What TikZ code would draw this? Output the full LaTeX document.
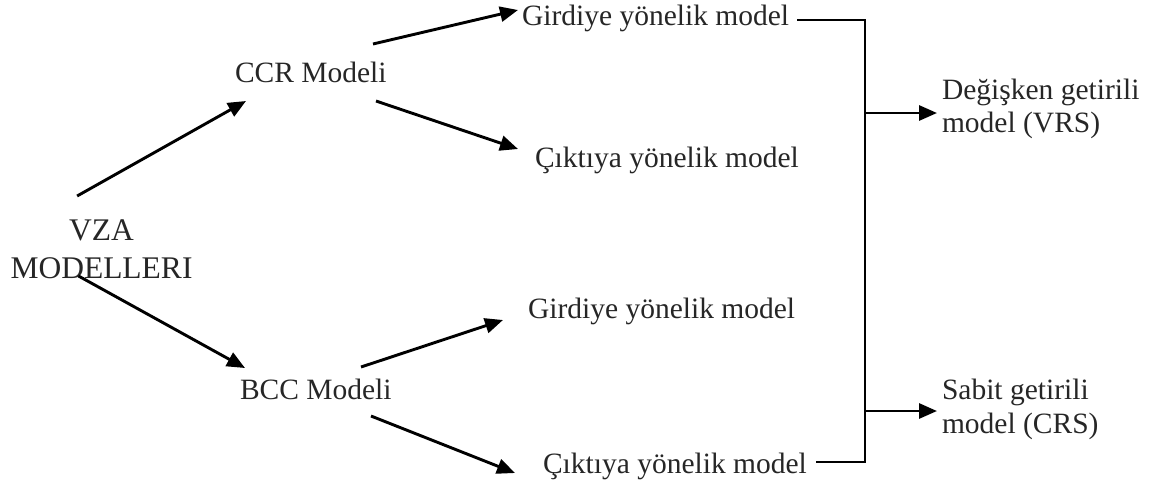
\documentclass[tikz,border=0pt]{standalone}
\usepackage{fontspec}
\setmainfont{Liberation Serif}
\usetikzlibrary{arrows.meta}
\begin{document}
\begin{tikzpicture}[x=1pt,y=-1pt,
  lbl/.style={inner sep=0pt,outer sep=0pt,anchor=base west,font=\fontsize{29.5}{35}\selectfont,text=black!85},
  big/.style={inner sep=0pt,outer sep=0pt,anchor=base,font=\fontsize{31.5}{38}\selectfont,text=black!85},
  conn/.style={line width=2.9pt,black},
  arr/.style={conn,-{Triangle[length=18pt,width=15pt]}}]
\useasboundingbox (0,0) rectangle (1150,482);
% nodes
\node[big] (vza1) at (101.5,240) {VZA};
\node[big] (vza2) at (101.5,278) {MODELLERI};
\node[lbl] (ccr) at (235,82) {CCR Modeli};
\node[lbl] (bcc) at (240,399) {BCC Modeli};
\node[lbl] (g1) at (522,25) {Girdiye yönelik model};
\node[lbl] (c1) at (535,167) {Çıktıya yönelik model};
\node[lbl] (g2) at (528,318) {Girdiye yönelik model};
\node[lbl] (c2) at (543,473) {Çıktıya yönelik model};
\node[lbl] (vrs1) at (942,99) {Değişken getirili};
\node[lbl] (vrs2) at (942,132) {model (VRS)};
\node[lbl] (crs1) at (942,399) {Sabit getirili};
\node[lbl] (crs2) at (942,433) {model (CRS)};
% connectors
\draw[arr] ([shift={(8,-44)}]vza1.base west) -- ([shift={(11,19)}]ccr.base west);
\draw[arr] ([shift={(68,-2)}]vza2.base west) -- ([shift={(5,-31)}]bcc.base west);
\draw[arr] ([shift={(138,-38)}]ccr.base west) -- ([shift={(-4,-15)}]g1.base west);
\draw[arr] ([shift={(141,19)}]ccr.base west) -- ([shift={(-17,-18)}]c1.base west);
\draw[arr] ([shift={(121,-32)}]bcc.base west) -- ([shift={(-25,2)}]g2.base west);
\draw[arr] ([shift={(131,17)}]bcc.base west) -- ([shift={(-28,0)}]c2.base west);
% bracket
\coordinate (jtop) at (865,20);
\coordinate (jbot) at (865,462);
\draw[conn,line join=miter] ([shift={(8,-5)}]g1.base east) -- (jtop) -- (jbot) -- ([shift={(9,-11)}]c2.base east);
\coordinate (tv) at ([shift={(-5,14)}]vrs1.base west);
\coordinate (tc) at ([shift={(-5,12)}]crs1.base west);
\draw[arr] (jtop |- tv) -- (tv);
\draw[arr] (jtop |- tc) -- (tc);
\end{tikzpicture}
\end{document}
